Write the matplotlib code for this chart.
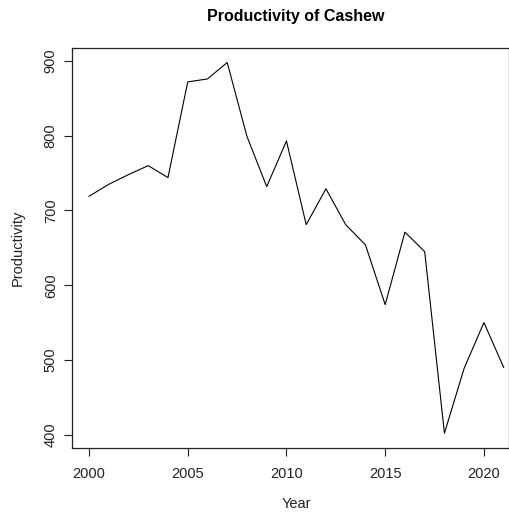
import matplotlib
matplotlib.use("Agg")
import matplotlib.pyplot as plt

years = list(range(2000, 2022))
productivity = [719, 735, 748, 760, 744, 872, 876, 898, 799, 732, 793,
                681, 729, 681, 654, 574, 671, 645, 402, 489, 550, 490]
xticks = [2000, 2005, 2010, 2015, 2020]
yticks = [400, 500, 600, 700, 800, 900]

plt.rcParams['font.family'] = ['Liberation Sans', 'DejaVu Sans']

fig = plt.figure(figsize=(5.09, 5.12), dpi=100)
ax = fig.add_axes([72.4/509, 1-448/512, 1-72.4/509, (448-47.7)/512])
ax.plot(years, productivity, color='black', linewidth=0.8)
ax.set_xlim(1999.16, 2021.27)
ax.set_ylim(382.2, 917.8)
ax.set_xticks(xticks)
ax.set_xticklabels([str(t) for t in xticks], fontsize=10.5)
ax.set_yticks(yticks)
ax.set_yticklabels([str(t) for t in yticks], fontsize=10.5, rotation=90, va='center')
ax.tick_params(direction='out', length=5.5, width=0.8, pad=5, colors='#222222', labelcolor='#222222')
ax.tick_params(axis='x', pad=8.5)
for s in ax.spines.values():
    s.set_linewidth(0.9)
    s.set_color('#222222')
fig.text(296/509, 1-16/512, 'Productivity of Cashew', fontsize=11.5, fontweight='bold',
         ha='center', va='center')
fig.text(296/509, 1-504/512, 'Year', fontsize=10.5, ha='center', va='center', color='#222222')
fig.text(18/509, 1-248/512, 'Productivity', fontsize=10.5, ha='center', va='center',
         rotation=90, color='#222222')
fig.savefig('out.png', dpi=100)
